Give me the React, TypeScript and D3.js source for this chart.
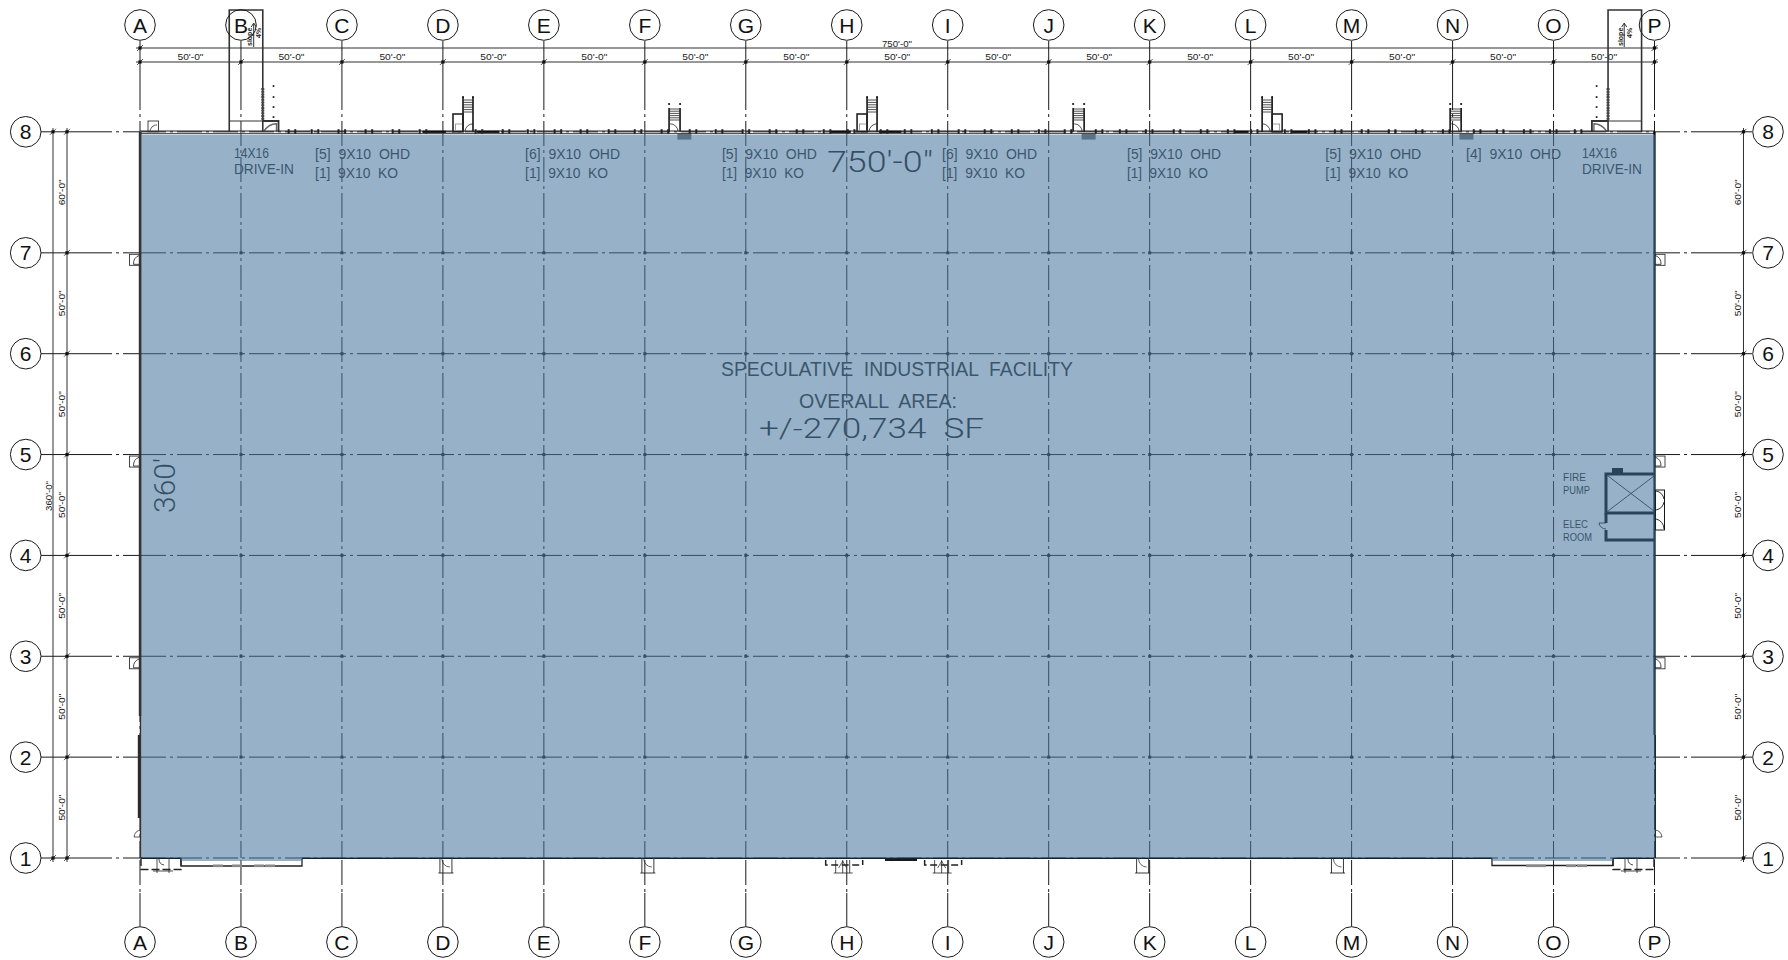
import React from "react";
import * as d3 from "d3";

const columnNames = ["A","B","C","D","E","F","G","H","I","J","K","L","M","N","O","P"];
const columnFeet = [0,50,100,150,200,250,300,350,400,450,500,550,600,650,700,750];
const rowNames = ["1","2","3","4","5","6","7","8"];
const rowFeet = [0,50,100,150,200,250,300,360];
const rowBayLabels = ["50'-0\"","50'-0\"","50'-0\"","50'-0\"","50'-0\"","50'-0\"","60'-0\""];
const dockMarkFeet = [75.3,86.7,100,113.4,126.8,140.2,167.9,181.3,193.7,207,219.9,233.8,246.7,260,273.9,286.8,300.1,313.5,326.9,340.3,352.2,368.5,380.4,393.8,407.1,420,433.4,446.8,459.6,475,486.9,499.8,513.6,527,540.4,551.8,568.6,580.5,593.4,606.7,620.1,633.5,646.9,662.2,673.6,687,699.9,712.2];
const thickWallFeet = [[140,151.5],[167,178],[342,352],[366,377],[542,549],[570,578]];
const bigStairFeet = [155,355.1];
const bigStairMirroredFeet = [565.6];
const smallStairFeet = [262,462.1,648.8];
const hatchFeet = [266.6,466.8,653.9];
const sideDoorRowFeet = [300,200,100];
const bottomDoorFeet = [151.5,251.5,497.5,594];
const bottomDoorOpposite = [false,false,true,true];
const doubleEntryFeet = [346,395];
const noteLines = [
  ["[5]  9X10  OHD","[1]  9X10  KO"],["[6]  9X10  OHD","[1]  9X10  KO"],["[5]  9X10  OHD","[1]  9X10  KO"],
  ["[6]  9X10  OHD","[1]  9X10  KO"],["[5]  9X10  OHD","[1]  9X10  KO"],["[5]  9X10  OHD","[1]  9X10  KO"],
  ["[4]  9X10  OHD"],
];
const noteFeet = [86.7,190.7,288.2,397.2,488.8,587,656.7];
const noteWidths = [[95,83],[95,83],[95,82],[95,83],[94,81],[96,83],[95]];

const WIDTH = 1788, HEIGHT = 960;
const sans = "'Liberation Sans', Arial, sans-serif";
const light = "Roboto, 'Liberation Sans', sans-serif";

const x = d3.scaleLinear().domain([0,750]).range([140,1654.5]);
const y = d3.scaleLinear().domain([0,360]).range([858,131.8]);

const DASH = "25 4 3 4";
const ink = "#1a1a1a";

function GridLines() {
  return <g stroke={ink} strokeWidth={1} fill="none">
    {columnFeet.map((f,i)=>{
      const X=x(f);
      return <g key={i}>
        <line x1={X} x2={X} y1={41} y2={85}/>
        <line x1={X} x2={X} y1={85} y2={858} strokeDasharray={DASH}/>
        <line x1={X} x2={X} y1={860} y2={893} strokeDasharray={DASH}/>
        <line x1={X} x2={X} y1={893} y2={926.5}/>
      </g>;
    })}
    {rowFeet.map((f,i)=>{
      const Y=y(f);
      return <g key={i}>
        <line x1={41} x2={87} y1={Y} y2={Y}/>
        <line x1={87} x2={140} y1={Y} y2={Y} strokeDasharray={DASH}/>
        <line x1={141} x2={1654} y1={Y} y2={Y} strokeDasharray={DASH}/>
        <line x1={1655} x2={1715} y1={Y} y2={Y} strokeDasharray={DASH}/>
        <line x1={1715} x2={1752} y1={Y} y2={Y}/>
      </g>;
    })}
    {columnFeet.slice(1,-1).map(c=>rowFeet.slice(1,-1).map(r=>
      <rect key={`${c}-${r}`} x={x(c)-1.5} y={y(r)-1.5} width={3} height={3} fill={ink} stroke="none"/>))}
  </g>;
}

function Bubble({cx,cy,t}:{cx:number;cy:number;t:string}) {
  return <g>
    <circle cx={cx} cy={cy} r={15.3} fill="none" stroke={ink} strokeWidth={1}/>
    <text x={cx} y={cy+7.6} textAnchor="middle" fontFamily={sans} fontSize={21} fill="#111">{t}</text>
  </g>;
}

function Tick({cx,cy}:{cx:number;cy:number}) {
  return <g>
    <rect x={cx-1.6} y={cy-1.6} width={3.2} height={3.2} fill="#111"/>
    <line x1={cx-3} x2={cx+3} y1={cy+3} y2={cy-3} stroke="#111" strokeWidth={0.7}/>
  </g>;
}

function Dimensions() {
  const top1=48, top2=62, left1=53, left2=67, right=1743.5;
  return <g>
    <g stroke={ink} strokeWidth={0.9}>
      <line x1={136} x2={1658} y1={top1} y2={top1}/>
      <line x1={136} x2={1658} y1={top2} y2={top2}/>
      <line x1={left1} x2={left1} y1={128} y2={862}/>
      <line x1={left2} x2={left2} y1={128} y2={862}/>
      <line x1={right} x2={right} y1={128} y2={862}/>
    </g>
    {columnFeet.map((f,i)=><Tick key={i} cx={x(f)} cy={top2}/>)}
    <Tick cx={x(0)} cy={top1}/><Tick cx={x(750)} cy={top1}/>
    {rowFeet.map((f,i)=><g key={i}><Tick cx={left2} cy={y(f)}/><Tick cx={right} cy={y(f)}/></g>)}
    <Tick cx={left1} cy={y(0)}/><Tick cx={left1} cy={y(360)}/>
    {columnFeet.slice(0,-1).map((f,i)=>
      <text key={i} x={(x(f)+x(columnFeet[i+1]))/2} y={60} textAnchor="middle" fontFamily={sans} fontSize={8.5} fill="#222" textLength={26} lengthAdjust="spacingAndGlyphs">50'-0"</text>)}
    <text x={897} y={47} textAnchor="middle" fontFamily={sans} fontSize={8.5} fill="#222" textLength={30} lengthAdjust="spacingAndGlyphs">750'-0"</text>
    {rowBayLabels.map((t,i)=>{
      const c=(y(rowFeet[i])+y(rowFeet[i+1]))/2;
      return <g key={i}>
        <text transform={`translate(65,${c}) rotate(-90)`} textAnchor="middle" fontFamily={sans} fontSize={8.5} fill="#222" textLength={26} lengthAdjust="spacingAndGlyphs">{t}</text>
        <text transform={`translate(1741,${c}) rotate(-90)`} textAnchor="middle" fontFamily={sans} fontSize={8.5} fill="#222" textLength={26} lengthAdjust="spacingAndGlyphs">{t}</text>
      </g>;
    })}
    <text transform={`translate(52,496) rotate(-90)`} textAnchor="middle" fontFamily={sans} fontSize={8.5} fill="#222" textLength={30} lengthAdjust="spacingAndGlyphs">360'-0"</text>
  </g>;
}

function BigStair({f,mirror}:{f:number;mirror:boolean}) {
  const X=x(f), s=mirror?-1:1, T=y(360);
  const treads=d3.range(0,6);
  return <g transform={`translate(${X},0) scale(${s},1)`} fill="none" stroke="#222">
    <rect x={0} y={114} width={10} height={T-114} strokeWidth={1.6}/>
    <rect x={2.5} y={124} width={7.5} height={6.5} stroke="#888" strokeWidth={0.8}/>
    <line x1={10} x2={10} y1={97} y2={T} strokeWidth={1.7}/>
    <line x1={20} x2={20} y1={97} y2={T} strokeWidth={1.7}/>
    {treads.map(i=><line key={i} x1={10} x2={20} y1={100+i*2.4} y2={100+i*2.4} strokeWidth={0.8}/>)}
    <path d={`M20,${T-8}a8,8 0 0 0 -8,8`} strokeWidth={0.8}/>
    <circle cx={10} cy={97} r={1} fill="#111" stroke="none"/><circle cx={20} cy={97} r={1} fill="#111" stroke="none"/>
  </g>;
}

function SmallStair({f}:{f:number}) {
  const X=x(f), T=y(360);
  const treads=d3.range(0,6);
  return <g transform={`translate(${X},0)`} fill="none" stroke="#222">
    <line x1={0} x2={0} y1={108} y2={T} strokeWidth={1.7}/>
    <line x1={11} x2={11} y1={108} y2={T} strokeWidth={1.7}/>
    {treads.map(i=><line key={i} x1={0} x2={11} y1={109+i*2.2} y2={109+i*2.2} strokeWidth={0.8}/>)}
    <path d={`M1,${T-8}a8,8 0 0 1 8,8`} strokeWidth={0.8}/>
    <circle cx={0} cy={104} r={1.1} fill="#111" stroke="none"/><circle cx={11} cy={104} r={1.1} fill="#111" stroke="none"/>
  </g>;
}

function DriveIn({left,right,outer,dotsX,arrowX}:{left:number;right:number;outer:number;dotsX:number;arrowX:number}) {
  const L=x(left),R=x(right),O=x(outer),D=x(dotsX),A=x(arrowX),T=y(360);
  const wall = outer>left ? R : L;
  const sign = outer>left ? 1 : -1;
  return <g fill="none" stroke="#333">
    <path d={`M${L},${T}V10H${R}V${T}`} strokeWidth={1.6}/>
    <line x1={L} x2={R} y1={121} y2={121} strokeWidth={1}/>
    <path d={`M${wall},121H${O}V${T}`} strokeWidth={1.8}/>
    <line x1={wall} x2={wall} y1={88} y2={120} strokeWidth={3} stroke="#444" strokeDasharray="2 0.7"/>
    <path d={`M${O-sign*15},${T}q${sign*5},-8 ${sign*13},-8v8`} strokeWidth={1.4} stroke="#666"/>
    {[86,97,107,117].map(v=><rect key={v} x={D-0.8} y={v-0.8} width={1.7} height={1.7} fill="#111" stroke="none"/>)}
    <line x1={A} x2={A} y1={24} y2={47} strokeWidth={1}/>
    <path d={`M${A-2.5},27L${A},23L${A+2.5},27`} strokeWidth={1}/>
    <text transform={`translate(${A-1.5},46) rotate(-90)`} fontFamily={sans} fontWeight={700} fontSize={7} fill="#222" stroke="none">slope</text>
    <text transform={`translate(${A+7.5},38) rotate(-90)`} fontFamily={sans} fontWeight={700} fontSize={7} fill="#222" stroke="none">4%</text>
  </g>;
}

function SideDoor({rowF,side}:{rowF:number;side:"left"|"right"}) {
  const Y=y(rowF)+1.5;
  const X= side==="left"? x(0)-10.5 : x(750)+0.5;
  return <g fill="none" stroke="#333" strokeWidth={0.9}>
    <rect x={X} y={Y} width={10} height={11}/>
    {side==="left"
      ? <path d={`M${X+10},${Y+1}a9,9 0 0 0 -6,9h6`}/>
      : <path d={`M${X},${Y+1}a9,9 0 0 1 6,9h-6`}/>}
  </g>;
}

function TopWall() {
  const T=y(360);
  return <g>
    <line x1={140} x2={1655} y1={T-0.8} y2={T-0.8} stroke="#222" strokeWidth={1}/>
    <line x1={140} x2={1655} y1={T+1.6} y2={T+1.6} stroke="#444" strokeWidth={1}/>
    {thickWallFeet.map(([a,b],i)=><line key={i} x1={x(a)} x2={x(b)} y1={T} y2={T} stroke="#111" strokeWidth={2.2}/>)}
    {dockMarkFeet.map((f,i)=><g key={i} fill="#222">
      <rect x={x(f)-4.4} y={T-2.6} width={2} height={4.6}/>
      <rect x={x(f)+2.2} y={T-2.6} width={2} height={4.6}/>
    </g>)}
    {hatchFeet.map((f,i)=><rect key={i} x={x(f)-1} y={T+1.6} width={14} height={6.2} fill="#3c3c3c" opacity={0.75}/>)}
    <rect x={148} y={121} width={10.5} height={T-121} fill="none" stroke="#333" strokeWidth={0.9}/>
    <path d={`M150,${T}a7,7 0 0 1 7,-7`} fill="none" stroke="#333" strokeWidth={0.8}/>
  </g>;
}

function Walls() {
  const B=y(0), T=y(360);
  const R=x(750);
  return <g fill="none">
    <line x1={140.2} x2={140.2} y1={T} y2={716} stroke="#333" strokeWidth={2.8}/>
    <line x1={139} x2={139} y1={735} y2={818} stroke="#2a2a2a" strokeWidth={2.4}/>
    <line x1={140.6} x2={140.6} y1={716} y2={B} stroke="#333" strokeWidth={1.6}/>
    <path d={`M141,830a8,8 0 0 0 -7,7h7`} stroke="#333" strokeWidth={0.8}/>
    <line x1={R} x2={R} y1={T} y2={735} stroke="#000" strokeWidth={2.2}/>
    <line x1={R+0.8} x2={R+0.8} y1={735} y2={B} stroke="#000" strokeWidth={1.3}/>
    <path d={`M1655,830a8,8 0 0 1 7,7h-7`} stroke="#333" strokeWidth={0.8}/>
    <line x1={141} x2={181} y1={B+0.3} y2={B+0.3} stroke="#000" strokeWidth={1.6}/>
    <line x1={302} x2={1492} y1={B+0.3} y2={B+0.3} stroke="#000" strokeWidth={1.4}/>
    <line x1={1613} x2={R} y1={B+0.3} y2={B+0.3} stroke="#000" strokeWidth={1.6}/>
    <line x1={885} x2={917} y1={B+2} y2={B+2} stroke="#000" strokeWidth={1.8}/>
  </g>;
}

function BottomFeatures() {
  const B=y(0);
  return <g fill="none" stroke="#222">
    <path d={`M181,${B}V866H302V${B}`} strokeWidth={1.3}/>
    <path d={`M1492,${B}V865.5H1613V${B}`} strokeWidth={1.3}/>
    {[213,232,254,265,1526,1536,1566,1577].map(v=><rect key={v} x={v} y={864.5} width={10} height={2.6} fill="#888" stroke="none"/>)}
    <path d={`M141,${B}V869.5H181V${B}`} strokeWidth={1.4} strokeDasharray="8 3"/>
    <path d={`M1613,${B}V869.5H1654V${B}`} strokeWidth={1.4} strokeDasharray="8 3"/>
    <g strokeWidth={0.8}>
      <path d={`M157,${B}V873M169,${B}V873M153,871H173`}/>
      <path d={`M1625,${B}V873M1637,${B}V873M1621,871H1641`}/>
      <path d={`M159,${B+1}a6,6 0 0 0 5,6`}/>
      <path d={`M1628,${B+1}a6,6 0 0 0 5,6`}/>
    </g>
    {bottomDoorFeet.map((f,i)=>{
      const X=x(f)-(bottomDoorOpposite[i]?2:0);
      return <g key={i} strokeWidth={0.9}>
        <path d={`M${X-6},${B}V873M${X+6},${B}V873M${X-7.5},873H${X+7.5}`}/>
        <path d={`M${X-4},${B+1}a8,8 0 0 0 8,8`} strokeWidth={0.7}/>
      </g>;
    })}
    {doubleEntryFeet.map((f,i)=>{
      const X=x(f);
      return <g key={i}>
        <path d={`M${X-13},860V865H${X+24}V860`} strokeWidth={1.5} strokeDasharray="7 3.5"/>
        <path d={`M${X-3},${B+2}V873M${X+4},${B+2}V873M${X+11},${B+2}V873M${X-5},873H${X+14}`} strokeWidth={0.8}/>
        <path d={`M${X},868L${X+4},861L${X+8},868`} strokeWidth={0.7}/>
      </g>;
    })}
  </g>;
}

function PumpRoom() {
  return <g fill="none" stroke="#000">
    <path d={`M1654,474H1606V513H1654`} strokeWidth={3}/>
    <path d={`M1606,513V523M1606,530V540H1654`} strokeWidth={3}/>
    <line x1={1608} x2={1654} y1={476} y2={511} strokeWidth={0.8}/>
    <line x1={1654} x2={1608} y1={476} y2={511} strokeWidth={0.8}/>
    <rect x={1612} y={468} width={11} height={6} fill="#000" stroke="none"/>
    <path d={`M1606,529a7,7 0 0 1 -7,-6h7`} strokeWidth={0.8}/>
    <rect x={1655.5} y={490} width={9} height={40} strokeWidth={0.9}/>
    <path d={`M1656,491a10,10 0 0 1 8,8M1656,510a10,10 0 0 0 8,-8M1656,519a10,10 0 0 1 8,10`} strokeWidth={0.8}/>
    <line x1={1655} x2={1655} y1={490} y2={530} stroke="#000" strokeWidth={2}/>
  </g>;
}

function T({x:X,y:Y,w,fs,children,fill="#1a1a1a",family=sans,weight}:{x:number;y:number;w:number;fs:number;children:string;fill?:string;family?:string;weight?:number}) {
  return <text x={X} y={Y} fontFamily={family} fontSize={fs} fontWeight={weight} fill={fill} textLength={w} lengthAdjust="spacingAndGlyphs" style={{whiteSpace:"pre"}}>{children}</text>;
}

function Notes() {
  return <g>
    {noteLines.map((lines,i)=>lines.map((t,j)=>
      <T key={`${i}-${j}`} x={x(noteFeet[i])} y={158.8+j*19.2} w={noteWidths[i][j]} fs={15} fill="#2b2b2b">{t}</T>))}
    <T x={234} y={158} w={35} fs={14.5} fill="#2b2b2b">14X16</T>
    <T x={234} y={174} w={60} fs={14.5} fill="#2b2b2b">DRIVE-IN</T>
    <T x={1582} y={158} w={35} fs={14.5} fill="#2b2b2b">14X16</T>
    <T x={1582} y={174} w={60} fs={14.5} fill="#2b2b2b">DRIVE-IN</T>
    <T x={827} y={172} w={106} fs={29} family={light} weight={300}>750'-0"</T>
    <T x={721} y={376} w={352} fs={20.5} fill="#2b2b2b">SPECULATIVE  INDUSTRIAL  FACILITY</T>
    <T x={799} y={408} w={158} fs={20.5} fill="#2b2b2b">OVERALL  AREA:</T>
    <T x={759} y={438} w={225} fs={27} family={light} weight={300}>+/-270,734  SF</T>
    <text transform="translate(175,513) rotate(-90)" fontFamily={light} fontWeight={300} fontSize={29} fill="#1a1a1a" textLength={55} lengthAdjust="spacingAndGlyphs">360'</text>
    <T x={1563} y={481} w={23} fs={10} fill="#1f1f1f">FIRE</T>
    <T x={1563} y={494} w={27} fs={10} fill="#1f1f1f">PUMP</T>
    <T x={1563} y={528} w={25} fs={10} fill="#1f1f1f">ELEC</T>
    <T x={1563} y={541} w={29} fs={10} fill="#1f1f1f">ROOM</T>
  </g>;
}

function Overlay() {
  const L=141.5, R=x(750)+1, t=y(360)+2.6, b=y(0)+0.4, low=y(0)+3;
  return <path d={`M${L},${t}H${R}V${b}H1613V${low}H1492V${b}H302V${low}H181V${b}H${L}Z`} fill="rgb(72,120,158)" opacity={0.57}/>;
}

export default function App() {
  return <svg width={WIDTH} height={HEIGHT} viewBox={`0 0 ${WIDTH} ${HEIGHT}`} style={{position:"absolute",left:0,top:0,display:"block",background:"#fff"}}>
    <GridLines/>
    <Dimensions/>
    <DriveIn left={44.2} right={60.8} outer={68.6} dotsX={66.1} arrowX={56.3}/>
    <DriveIn left={727} right={743.6} outer={719} dotsX={721.3} arrowX={735}/>
    <TopWall/>
    {bigStairFeet.map(f=><BigStair key={f} f={f} mirror={false}/>)}
    {bigStairMirroredFeet.map(f=><BigStair key={f} f={f} mirror={true}/>)}
    {smallStairFeet.map(f=><SmallStair key={f} f={f}/>)}
    {sideDoorRowFeet.map(f=><g key={f}><SideDoor rowF={f} side="left"/><SideDoor rowF={f} side="right"/></g>)}
    <Walls/>
    <BottomFeatures/>
    <PumpRoom/>
    <Notes/>
    <Overlay/>
    {columnNames.map((n,i)=><g key={n}>
      <Bubble cx={x(columnFeet[i])} cy={25} t={n}/>
      <Bubble cx={x(columnFeet[i])} cy={942} t={n}/>
    </g>)}
    {rowNames.map((n,i)=><g key={n}>
      <Bubble cx={25.7} cy={y(rowFeet[i])} t={n}/>
      <Bubble cx={1768} cy={y(rowFeet[i])} t={n}/>
    </g>)}
  </svg>;
}
